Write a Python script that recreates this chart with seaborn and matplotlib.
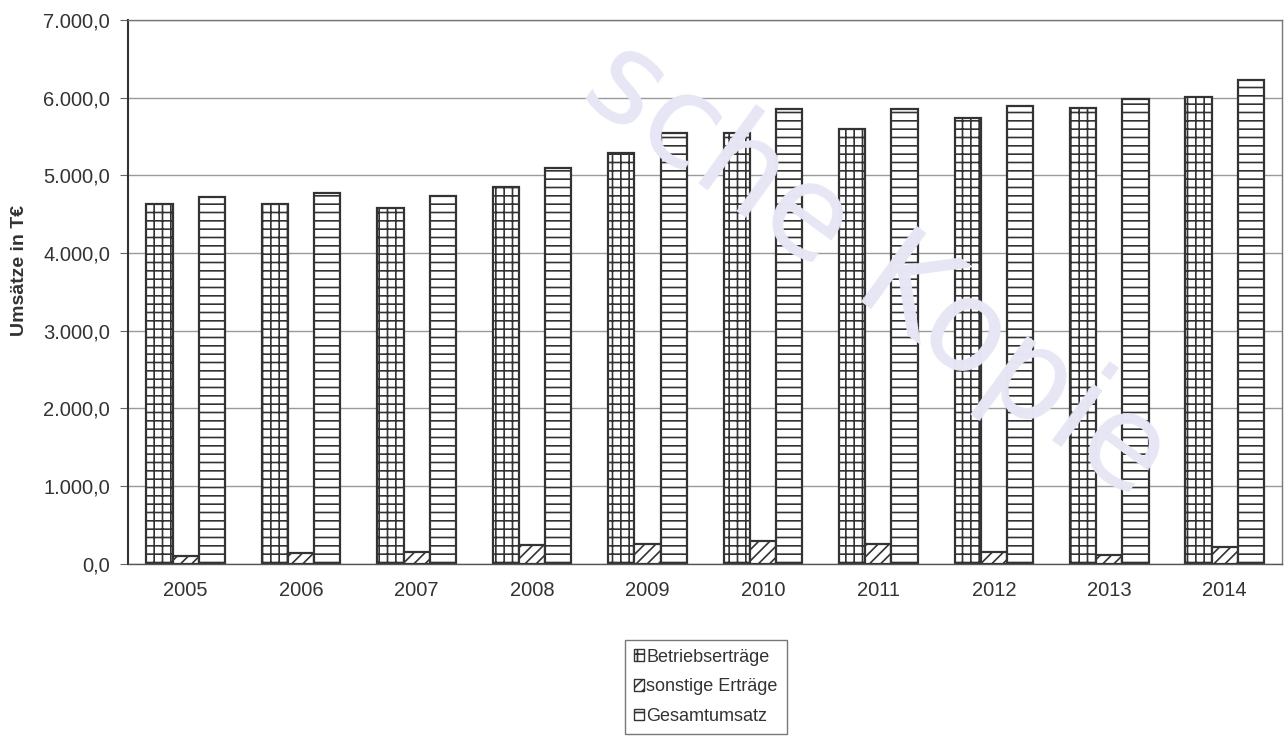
import pandas as pd
import numpy as np
import seaborn as sns
import matplotlib.pyplot as plt
from matplotlib.patches import Patch
from matplotlib.ticker import FuncFormatter

# Werte (T€)
jahre = ["2005", "2006", "2007", "2008", "2009", "2010", "2011", "2012", "2013", "2014"]
betriebsertraege = [4630, 4630, 4580, 4850, 5290, 5550, 5600, 5740, 5870, 6010]
sonstige_ertraege = [95, 145, 150, 240, 260, 300, 260, 150, 110, 220]
gesamtumsatz = [4725, 4775, 4730, 5090, 5550, 5850, 5860, 5890, 5980, 6230]

serien = ["Betriebserträge", "sonstige Erträge", "Gesamtumsatz"]
schraffur = ["++", "///", "--"]

df = pd.DataFrame({
    "Jahr": jahre * 3,
    "Wert": betriebsertraege + sonstige_ertraege + gesamtumsatz,
    "Serie": [s for s in serien for _ in jahre],
})

sns.set_style("white")
plt.rcParams["font.family"] = ["Liberation Sans", "DejaVu Sans"]
plt.rcParams["hatch.color"] = "#333333"
plt.rcParams["hatch.linewidth"] = 1.2

fig = plt.figure(figsize=(12.85, 7.4), dpi=100)
ax = fig.add_axes([0.0996, 0.238, 0.8984, 0.735])

# Wasserzeichen
fig.text(0.682, 0.636, "sche Kopie", fontsize=92, color="#e6e6f5", rotation=-36,
         ha="center", va="center", zorder=0, family="DejaVu Sans")
ax.set_facecolor("none")

sns.barplot(data=df, x="Jahr", y="Wert", hue="Serie", hue_order=serien,
            width=0.68, gap=0, ax=ax, legend=False)

for cont, h in zip(ax.containers, schraffur):
    for bar in cont:
        bar.set_facecolor("white")
        bar.set_edgecolor("#333333")
        bar.set_linewidth(1.6)
        bar.set_hatch(h)

ax.set_ylim(0, 7000)
ax.set_xlim(-0.5, 9.5)
ax.set_yticks(np.arange(0, 7001, 1000))
ax.yaxis.set_major_formatter(FuncFormatter(
    lambda v, p: f"{v:,.1f}".replace(",", "X").replace(".", ",").replace("X", ".")))
ax.grid(axis="y", color="#9a9a9a", linewidth=1.0)
ax.set_axisbelow(True)

for s in ax.spines.values():
    s.set_color("#777777")
    s.set_linewidth(1.0)
ax.spines["left"].set_color("#333333")
ax.spines["left"].set_linewidth(1.5)
ax.spines["bottom"].set_color("#555555")

ax.set_xticks(np.arange(-0.5, 10, 1), minor=True)
ax.tick_params(axis="x", which="major", length=0, labelsize=14.5, pad=12, colors="#333333")
ax.tick_params(axis="x", which="minor", length=5, direction="out", color="#666666")
ax.tick_params(axis="y", length=6, direction="out", color="#666666", labelsize=14.5,
               labelcolor="#333333", left=True, pad=7)
ax.set_xlabel("")
ax.set_ylabel("Umsätze in T€", fontsize=14, fontweight="bold", color="#333333")
ax.yaxis.set_label_coords(-0.087, 0.54)

handles = [Patch(facecolor="white", edgecolor="#333333", hatch=h, label=s)
           for s, h in zip(serien, schraffur)]
leg = fig.legend(handles=handles, loc="upper left", bbox_to_anchor=(0.479, 0.148),
                 frameon=True, fancybox=False, edgecolor="#555555", fontsize=13,
                 handlelength=0.6, handleheight=0.6, handletextpad=0.1,
                 labelspacing=0.7, borderpad=0.5, labelcolor="#333333")
leg.get_frame().set_linewidth(1.0)

plt.savefig("out.png", dpi=100)
